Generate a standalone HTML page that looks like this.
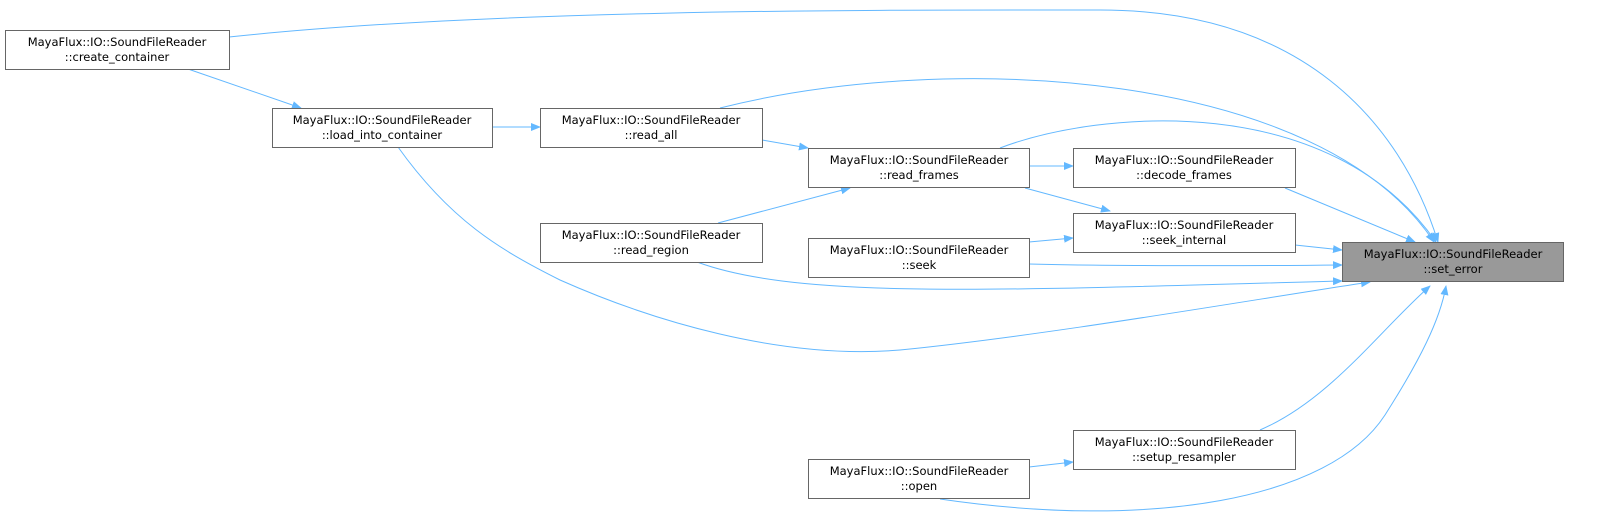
<!DOCTYPE html>
<html><head><meta charset="utf-8"><style>
html,body{margin:0;padding:0;background:#fff;}
svg{display:block;}
text{font-family:"DejaVu Sans","Liberation Sans",sans-serif;font-size:11.5px;fill:#000;}
</style></head><body>
<svg width="1603" height="519" viewBox="0 0 1603 519" xmlns="http://www.w3.org/2000/svg">
<defs>
<marker id="a" markerWidth="10" markerHeight="8" refX="9" refY="4" orient="auto" markerUnits="userSpaceOnUse">
<path d="M0,0 L10,4 L0,8 z" fill="#63b8ff"/>
</marker>
</defs>
<g fill="none" stroke="#63b8ff" stroke-width="1" marker-end="url(#a)">
<path d="M229,37 C500,8 900,10 1100,10 C1300,10 1400,120 1438,242"/>
<path d="M188,69 L301,108"/>
<path d="M492,127 L540,127"/>
<path d="M398,147 C450,220 500,250 560,280 C650,320 780,360 900,350 C1050,335 1250,300 1370,282"/>
<path d="M720,108 C950,50 1320,70 1434,242"/>
<path d="M762,140 L808,148"/>
<path d="M718,223 L850,188"/>
<path d="M697,262 C800,300 1000,290 1342,281"/>
<path d="M1029,166 L1073,166"/>
<path d="M1000,148 C1100,110 1330,90 1436,242"/>
<path d="M1025,188 L1110,211"/>
<path d="M1285,188 L1415,242"/>
<path d="M1295,245 L1342,250"/>
<path d="M1029,242 L1073,238"/>
<path d="M1029,264 C1100,266 1250,266 1342,265"/>
<path d="M1260,430 C1330,400 1380,330 1430,286"/>
<path d="M1029,467 L1073,462"/>
<path d="M940,499 C1150,530 1330,500 1385,415 C1420,360 1440,320 1446,286"/>
</g>
<g stroke="#666" stroke-width="1" fill="#fff">
<rect x="5.5" y="30.5" width="224" height="39"/>
<rect x="272.5" y="108.5" width="220" height="39"/>
<rect x="540.5" y="108.5" width="222" height="39"/>
<rect x="540.5" y="223.5" width="222" height="39"/>
<rect x="808.5" y="148.5" width="221" height="39"/>
<rect x="808.5" y="238.5" width="221" height="39"/>
<rect x="808.5" y="459.5" width="221" height="39"/>
<rect x="1073.5" y="148.5" width="222" height="39"/>
<rect x="1073.5" y="213.5" width="222" height="39"/>
<rect x="1073.5" y="430.5" width="222" height="39"/>
<rect x="1342.5" y="242.5" width="221" height="39" fill="#999"/>
</g>
<g text-anchor="middle">
<text x="117" y="46">MayaFlux::IO::SoundFileReader</text><text x="117" y="61">::create_container</text>
<text x="382" y="124">MayaFlux::IO::SoundFileReader</text><text x="382" y="139">::load_into_container</text>
<text x="651" y="124">MayaFlux::IO::SoundFileReader</text><text x="651" y="139">::read_all</text>
<text x="651" y="239">MayaFlux::IO::SoundFileReader</text><text x="651" y="254">::read_region</text>
<text x="919" y="164">MayaFlux::IO::SoundFileReader</text><text x="919" y="179">::read_frames</text>
<text x="919" y="254">MayaFlux::IO::SoundFileReader</text><text x="919" y="269">::seek</text>
<text x="919" y="475">MayaFlux::IO::SoundFileReader</text><text x="919" y="490">::open</text>
<text x="1184" y="164">MayaFlux::IO::SoundFileReader</text><text x="1184" y="179">::decode_frames</text>
<text x="1184" y="229">MayaFlux::IO::SoundFileReader</text><text x="1184" y="244">::seek_internal</text>
<text x="1184" y="446">MayaFlux::IO::SoundFileReader</text><text x="1184" y="461">::setup_resampler</text>
<text x="1453" y="258">MayaFlux::IO::SoundFileReader</text><text x="1453" y="273">::set_error</text>
</g>
</svg>
</body></html>
